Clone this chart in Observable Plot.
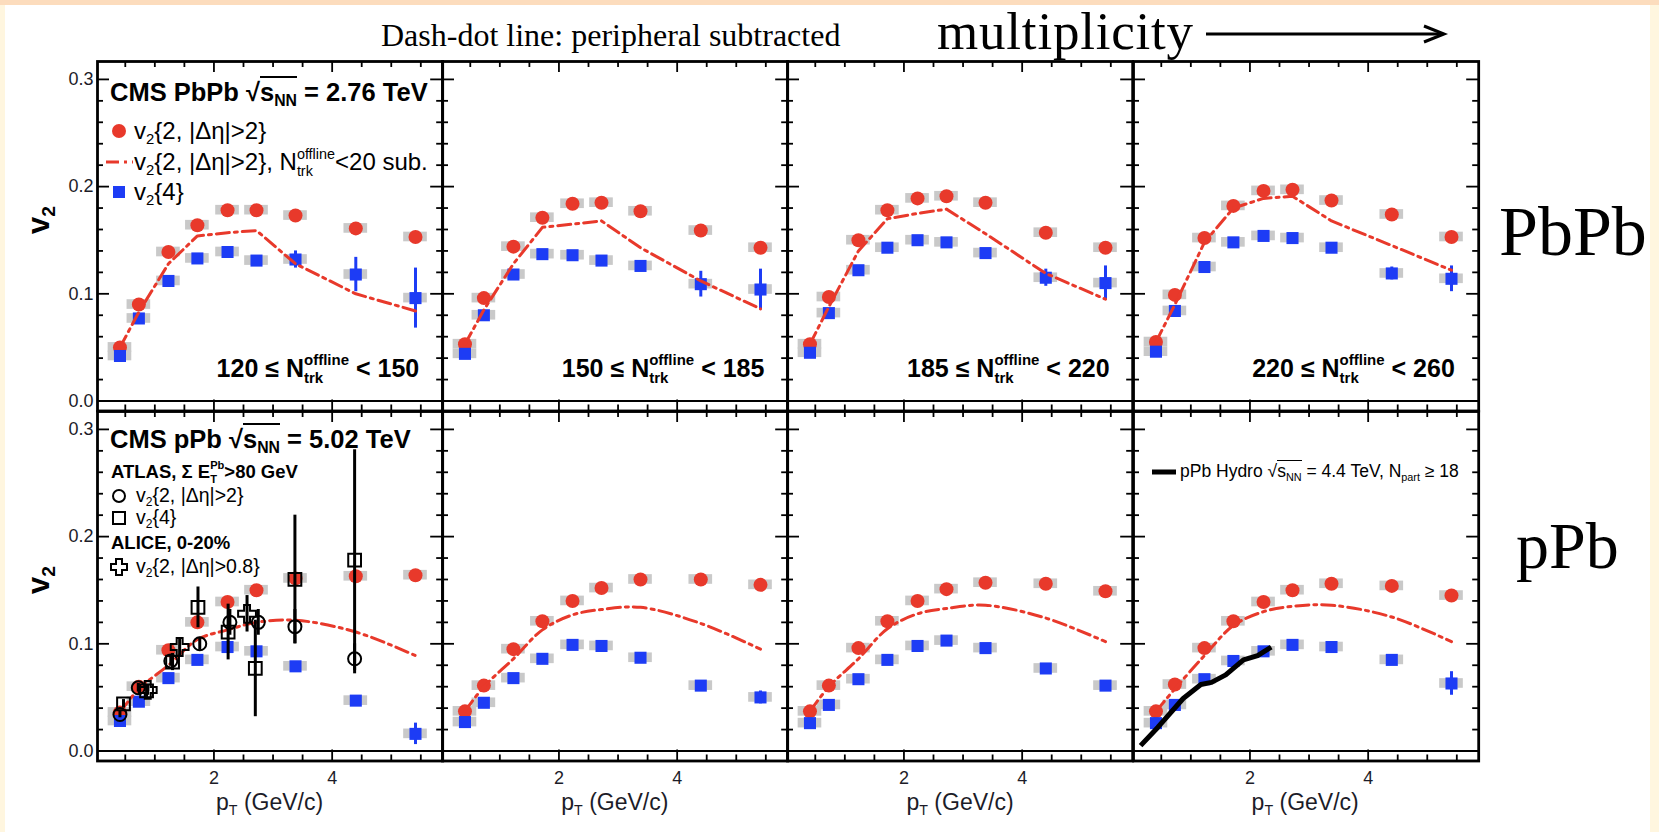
<!DOCTYPE html>
<html><head><meta charset="utf-8">
<script src="https://cdn.jsdelivr.net/npm/d3@7"></script>
<script src="https://cdn.jsdelivr.net/npm/@observablehq/plot@0.6"></script>
<style>
html,body{margin:0;padding:0;background:#fff;}
#root{position:relative;width:1659px;height:832px;overflow:hidden;background:#fff;font-family:"Liberation Sans",Arial,Helvetica,sans-serif;color:#000;}
.abs{position:absolute;white-space:nowrap;line-height:1;}
.sb{font-size:0.62em;position:relative;top:0.32em;line-height:0;}
.sp{font-size:0.62em;position:relative;top:-0.72em;line-height:0;}
.ss{position:relative;display:inline-block;line-height:0;font-size:0.6em;}
.ss .h{visibility:hidden;}
.ss .u,.ss .d{position:absolute;left:0;}
.ss .u{top:-0.78em;} .ss .d{top:0.42em;}
.rt{border-top:2px solid #000;padding-top:0px;}
.serif{font-family:"Liberation Serif","Times New Roman",serif;}
.plot{position:absolute;}
</style></head>
<body><div id="root"></div>
<script>
// ---------------- data ----------------
const pT = [0.41, 0.73, 1.23, 1.72, 2.23, 2.72, 3.38, 4.40, 5.41];
const rowNames = ["PbPb", "pPb"];
const binLabels = [["120", "150"], ["150", "185"], ["185", "220"], ["220", "260"]];
// PbPb, v2{2,|deta|>2}
const pbpbV22 = [
  [0.050, 0.090, 0.139, 0.164, 0.178, 0.178, 0.173, 0.161, 0.153],
  [0.053, 0.096, 0.144, 0.171, 0.184, 0.185, 0.177, 0.159, 0.143],
  [0.053, 0.097, 0.150, 0.178, 0.189, 0.191, 0.185, 0.157, 0.143],
  [0.055, 0.099, 0.152, 0.182, 0.196, 0.197, 0.187, 0.174, 0.153]];
const pbpbV24 = [
  [0.042, 0.077, 0.112, 0.133, 0.139, 0.131, 0.132, 0.118, 0.096],
  [0.044, 0.080, 0.118, 0.137, 0.136, 0.131, 0.126, 0.109, 0.104],
  [0.045, 0.082, 0.122, 0.143, 0.150, 0.148, 0.138, 0.115, 0.110],
  [0.046, 0.084, 0.125, 0.148, 0.154, 0.152, 0.143, 0.119, 0.114]];
const pbpbV24Err = [
  [0.002, 0.002, 0.002, 0.002, 0.002, 0.003, 0.008, 0.016, 0.028],
  [0.002, 0.002, 0.002, 0.002, 0.002, 0.003, 0.004, 0.012, 0.019],
  [0.002, 0.002, 0.002, 0.002, 0.002, 0.003, 0.004, 0.008, 0.016],
  [0.002, 0.002, 0.002, 0.002, 0.002, 0.003, 0.004, 0.006, 0.012]];
const pbpbSub = [
  [0.050, 0.083, 0.128, 0.154, 0.157, 0.159, 0.128, 0.100, 0.084],
  [0.053, 0.085, 0.128, 0.162, 0.165, 0.168, 0.143, 0.112, 0.086],
  [0.053, 0.088, 0.140, 0.170, 0.175, 0.179, 0.156, 0.119, 0.095],
  [0.055, 0.090, 0.148, 0.180, 0.189, 0.191, 0.168, 0.145, 0.122]];
// pPb
const ppbV22 = [
  [0.036, 0.060, 0.094, 0.120, 0.139, 0.150, 0.161, 0.163, 0.164],
  [0.037, 0.061, 0.095, 0.121, 0.140, 0.152, 0.160, 0.160, 0.155],
  [0.037, 0.061, 0.096, 0.121, 0.140, 0.151, 0.157, 0.156, 0.149],
  [0.037, 0.062, 0.096, 0.121, 0.139, 0.150, 0.156, 0.154, 0.145]];
const ppbV24 = [
  [0.028, 0.046, 0.068, 0.085, 0.097, 0.093, 0.079, 0.047, 0.016],
  [0.027, 0.045, 0.068, 0.086, 0.099, 0.098, 0.087, 0.061, 0.050],
  [0.026, 0.043, 0.067, 0.085, 0.098, 0.103, 0.096, 0.077, 0.061],
  [0.026, 0.043, 0.067, 0.084, 0.093, 0.099, 0.097, 0.085, 0.063]];
const ppbV24Err = [
  [0.002, 0.002, 0.002, 0.002, 0.002, 0.002, 0.003, 0.004, 0.010],
  [0.002, 0.002, 0.002, 0.002, 0.002, 0.002, 0.003, 0.004, 0.006],
  [0.002, 0.002, 0.002, 0.002, 0.002, 0.002, 0.003, 0.004, 0.004],
  [0.002, 0.002, 0.002, 0.002, 0.002, 0.002, 0.003, 0.004, 0.011]];
const ppbSub = [
  [0.036, 0.058, 0.080, 0.104, 0.113, 0.120, 0.122, 0.111, 0.089],
  [0.037, 0.060, 0.086, 0.113, 0.127, 0.132, 0.134, 0.119, 0.095],
  [0.037, 0.060, 0.086, 0.114, 0.128, 0.133, 0.136, 0.124, 0.102],
  [0.037, 0.058, 0.089, 0.117, 0.130, 0.135, 0.136, 0.125, 0.102]];
// ATLAS (pPb, sum E_T^Pb > 80 GeV)
const atlasV22Pt  = [0.41, 0.72, 1.27, 1.76, 2.27, 2.75, 3.37, 4.38];
const atlasV22    = [0.034, 0.059, 0.084, 0.100, 0.120, 0.120, 0.116, 0.086];
const atlasV22Err = [0.003, 0.004, 0.005, 0.006, 0.012, 0.012, 0.016, 0.014];
const atlasV24Pt  = [0.47, 0.86, 1.30, 1.73, 2.24, 2.70, 3.37, 4.38];
const atlasV24    = [0.044, 0.056, 0.083, 0.134, 0.111, 0.077, 0.160, 0.178];
const atlasV24Err = [0.004, 0.006, 0.008, 0.019, 0.026, 0.045, 0.060, 0.103];
// ALICE 0-20%
const alicePt  = [0.88, 1.42, 2.56];
const aliceV2  = [0.057, 0.097, 0.128];
const aliceErr = [0.005, 0.008, 0.017];
// pPb hydro
const hydroPt = [0.15, 0.44, 0.87, 1.17, 1.35, 1.59, 1.89, 2.13, 2.36];
const hydroV2 = [0.005, 0.022, 0.049, 0.062, 0.064, 0.071, 0.085, 0.089, 0.097];
// axis ticks
const xTickVals = [0.5, 1, 1.5, 2, 2.5, 3, 3.5, 4, 4.5, 5, 5.5];
const xMajor = [2, 4];
const yTickVals = d3.range(0, 16).map(i => i * 0.02);
const yMajor = [0, 0.1, 0.2, 0.3];

// ---------------- layout ----------------
const RED = "#e8392b", BLUE = "#1d3cf5", GRAY = "#c9c9c9";
const X0 = 97, PW = 345.2, Y0 = 61, PH = 349.5;
const xDom = [0.03, 5.87], yDom = [-0.0093, 0.3167];
const kx = PW / (xDom[1] - xDom[0]), ky = PH / (yDom[1] - yDom[0]);
const root = document.getElementById("root");

function addDiv(html, style, cls) {
  const d = document.createElement("div");
  d.className = "abs" + (cls ? " " + cls : "");
  d.innerHTML = html;
  Object.assign(d.style, style);
  root.appendChild(d);
  return d;
}
// background strips
addDiv("", {left: "0px", top: "0px", width: "1659px", height: "5px", background: "#fcdcbd"});
addDiv("", {left: "0px", top: "5px", width: "5px", height: "827px", background: "#fff6df"});
addDiv("", {left: "1650px", top: "5px", width: "9px", height: "827px", background: "#fff6df"});

function panel(r, c) {
  const mL = c === 0 ? 50 : 4, mR = 4, mT = 4, mB = r === 1 ? 34 : 4;
  const v22 = (r === 0 ? pbpbV22 : ppbV22)[c];
  const v24 = (r === 0 ? pbpbV24 : ppbV24)[c];
  const e24 = (r === 0 ? pbpbV24Err : ppbV24Err)[c];
  const sub = (r === 0 ? pbpbSub : ppbSub)[c];
  const cms22 = pT.map((x, i) => ({x, y: v22[i]}));
  const cms24 = pT.map((x, i) => ({x, y: v24[i], e: e24[i]}));
  const subL = pT.map((x, i) => ({x, y: sub[i]}));
  const sys = cms22.concat(cms24);
  const xt = xTickVals.map(v => ({v, L: (xMajor.includes(v) ? 11 : 6) / ky}));
  const yt = yTickVals.map(v => ({v, L: (yMajor.some(m => Math.abs(m - v) < 1e-9) ? 12 : 6) / kx}));
  const marks = [
    Plot.rect(sys, {x1: d => d.x - 0.2, x2: d => d.x + 0.2, y1: d => d.y - 0.0045, y2: d => d.y + 0.0045, fill: GRAY}),
    Plot.dot(cms22, {x: "x", y: "y", r: 7, fill: RED}),
    Plot.ruleX(cms24, {x: "x", y1: d => d.y - d.e, y2: d => d.y + d.e, stroke: BLUE, strokeWidth: 3}),
    Plot.dot(cms24, {x: "x", y: "y", symbol: "square", r: 6.8, fill: BLUE}),
    Plot.line(subL, {x: "x", y: "y", stroke: RED, strokeWidth: 3, strokeDasharray: "13 5 3 5", curve: r === 0 ? "linear" : "catmull-rom"})
  ];
  if (r === 1 && c === 0) {
    const a22 = atlasV22Pt.map((x, i) => ({x, y: atlasV22[i], e: atlasV22Err[i]}));
    const a24 = atlasV24Pt.map((x, i) => ({x, y: atlasV24[i], e: atlasV24Err[i]}));
    const al = alicePt.map((x, i) => ({x, y: aliceV2[i], e: aliceErr[i]}));
    const all = a22.concat(a24, al);
    marks.push(
      Plot.ruleX(all, {x: "x", y1: d => d.y - d.e, y2: d => d.y + d.e, stroke: "#000", strokeWidth: 3}),
      Plot.dot(a24, {x: "x", y: "y", symbol: "square", r: 7.2, fill: "none", stroke: "#000", strokeWidth: 2}),
      Plot.dot(a22, {x: "x", y: "y", r: 6.5, fill: "none", stroke: "#000", strokeWidth: 2}),
      Plot.dot(al, {x: "x", y: "y", symbol: "cross", r: 7.5, fill: "none", stroke: "#000", strokeWidth: 2})
    );
  }
  if (r === 1 && c === 3) {
    const hy = hydroPt.map((x, i) => ({x, y: hydroV2[i]}));
    marks.push(Plot.line(hy, {x: "x", y: "y", stroke: "#000", strokeWidth: 5, strokeLinecap: "butt"}));
  }
  marks.push(
    Plot.ruleY([0], {stroke: "#000", strokeWidth: 1.8}),
    Plot.ruleX(xt, {x: "v", y1: yDom[0], y2: d => yDom[0] + d.L, stroke: "#000", strokeWidth: 1.8}),
    Plot.ruleX(xt, {x: "v", y1: yDom[1], y2: d => yDom[1] - d.L, stroke: "#000", strokeWidth: 1.8}),
    Plot.ruleY(yt, {y: "v", x1: xDom[0], x2: d => xDom[0] + d.L, stroke: "#000", strokeWidth: 1.8}),
    Plot.ruleY(yt, {y: "v", x1: xDom[1], x2: d => xDom[1] - d.L, stroke: "#000", strokeWidth: 1.8}),
    Plot.frame({stroke: "#000", strokeWidth: 2.8})
  );
  if (c === 0) marks.push(Plot.axisY({ticks: yMajor, tickFormat: d => d.toFixed(1), tickSize: 0, tickPadding: 4, label: null, fontSize: 18}));
  if (r === 1) marks.push(Plot.axisX({ticks: xMajor, tickFormat: d => String(d), tickSize: 0, tickPadding: 10, label: null, fontSize: 18}));
  const svg = Plot.plot({
    width: mL + PW + mR, height: mT + PH + mB,
    marginLeft: mL, marginRight: mR, marginTop: mT, marginBottom: mB,
    x: {domain: xDom, axis: r === 1 ? undefined : null},
    y: {domain: yDom, axis: c === 0 ? undefined : null},
    style: {background: "transparent", color: "#1c1c28", fontFamily: "'Liberation Sans', Arial, sans-serif", fontSize: "18px", overflow: "visible"},
    marks
  });
  svg.classList.add("plot");
  svg.style.position = "absolute";
  svg.style.left = (X0 + c * PW - mL) + "px";
  svg.style.top = (Y0 + r * PH - mT) + "px";
  root.appendChild(svg);
}
for (let r = 0; r < 2; r++) for (let c = 0; c < 4; c++) panel(r, c);

// ---------------- text overlays ----------------
const v2 = 'v<span class="sb">2</span>';
const Ntrk = 'N<span class="ss"><span class="h">offline</span><span class="u">offline</span><span class="d">trk</span></span>';
const sqrtS = '&radic;<span class="rt">s<span class="sb">NN</span></span>';

function capTop(cy, F, serif) { return (cy - (serif ? 0.5065 : 0.49) * F) + "px"; }
function baseTop(base, F) { return (base - 0.8375 * F) + "px"; }

// headers
addDiv('CMS PbPb ' + sqrtS + ' = 2.76 TeV', {left: "110px", top: capTop(92.5, 25.5), fontSize: "25.5px", fontWeight: "bold"});
addDiv(v2 + '{2, |&Delta;&eta;|&gt;2}', {left: "134px", top: capTop(131, 24), fontSize: "24px"});
addDiv(v2 + '{2, |&Delta;&eta;|&gt;2}, ' + Ntrk + '&lt;20 sub.', {left: "134px", top: capTop(162, 24), fontSize: "24px"});
addDiv(v2 + '{4}', {left: "134px", top: capTop(192, 24), fontSize: "24px"});

for (let c = 0; c < 4; c++) {
  const right = 1659 - (X0 + (c + 1) * PW - 23);
  addDiv(binLabels[c][0] + ' &le; ' + Ntrk + ' &lt; ' + binLabels[c][1], {right: right + "px", top: capTop(368, 25), fontSize: "25px", fontWeight: "bold"});
  addDiv('p<span class="sb">T</span> (GeV/c)', {left: (X0 + (c + 0.5) * PW) + "px", top: capTop(802.5, 23), fontSize: "23px", transform: "translateX(-50%)", color: "#1c1c28"});
}
addDiv('CMS pPb ' + sqrtS + ' = 5.02 TeV', {left: "110px", top: capTop(439, 25.5), fontSize: "25.5px", fontWeight: "bold"});
addDiv('ATLAS, &Sigma; E<span class="ss"><span class="h">Pb</span><span class="u">Pb</span><span class="d">T</span></span>&gt;80 GeV', {left: "111px", top: capTop(472, 18.5), fontSize: "18.5px", fontWeight: "bold"});
addDiv(v2 + '{2, |&Delta;&eta;|&gt;2}', {left: "136px", top: capTop(496, 19.5), fontSize: "19.5px"});
addDiv(v2 + '{4}', {left: "136px", top: capTop(518, 19.5), fontSize: "19.5px"});
addDiv('ALICE, 0-20%', {left: "111px", top: capTop(543, 18.5), fontSize: "18.5px", fontWeight: "bold"});
addDiv(v2 + '{2, |&Delta;&eta;|&gt;0.8}', {left: "136px", top: capTop(567, 19.5), fontSize: "19.5px"});
addDiv('pPb Hydro ' + sqrtS.replace('class="rt"', 'class="rt" style="border-top-width:1.5px"') + ' = 4.4 TeV, N<span class="sb">part</span> &ge; 18', {left: "1180px", top: capTop(472, 17.5), fontSize: "17.5px"});

// y labels
for (let r = 0; r < 2; r++) {
  addDiv('v<span class="sb">2</span>', {left: "38px", top: (r === 0 ? 220 : 580) + "px", fontSize: "31px", fontWeight: "bold", transform: "translate(-50%,-50%) rotate(-90deg)"});
}
// serif annotations
addDiv('Dash-dot line: peripheral subtracted', {left: "381px", top: capTop(35, 32, true), fontSize: "32px"}, "serif");
addDiv('multiplicity', {left: "937px", top: baseTop(49, 53), fontSize: "53px", letterSpacing: "0.8px"}, "serif");
addDiv(rowNames[0], {left: "1499px", top: baseTop(256, 70), fontSize: "70px"}, "serif");
addDiv(rowNames[1], {left: "1516px", top: baseTop(568, 66), fontSize: "66px"}, "serif");

// legend swatches and arrow
const ns = "http://www.w3.org/2000/svg";
const ov = document.createElementNS(ns, "svg");
ov.setAttribute("width", 1659); ov.setAttribute("height", 832);
ov.style.position = "absolute"; ov.style.left = "0"; ov.style.top = "0"; ov.style.pointerEvents = "none";
ov.innerHTML = `
  <circle cx="119" cy="131" r="7" fill="${RED}"/>
  <line x1="106" y1="162" x2="133" y2="162" stroke="${RED}" stroke-width="3" stroke-dasharray="13 5 3 5"/>
  <rect x="113" y="186" width="12" height="12" fill="${BLUE}"/>
  <circle cx="119" cy="496" r="6" fill="none" stroke="#000" stroke-width="2"/>
  <rect x="113" y="512" width="12" height="12" fill="none" stroke="#000" stroke-width="2"/>
  <path d="M116,559h6v5h5v6h-5v5h-6v-5h-5v-6h5z" fill="none" stroke="#000" stroke-width="2"/>
  <line x1="1152" y1="472" x2="1176" y2="472" stroke="#000" stroke-width="5"/>
  <line x1="1206" y1="34" x2="1442" y2="34" stroke="#000" stroke-width="3"/>
  <path d="M1424,26 L1444,34 L1424,42" fill="none" stroke="#000" stroke-width="3"/>
`;
root.appendChild(ov);
</script></body></html>
